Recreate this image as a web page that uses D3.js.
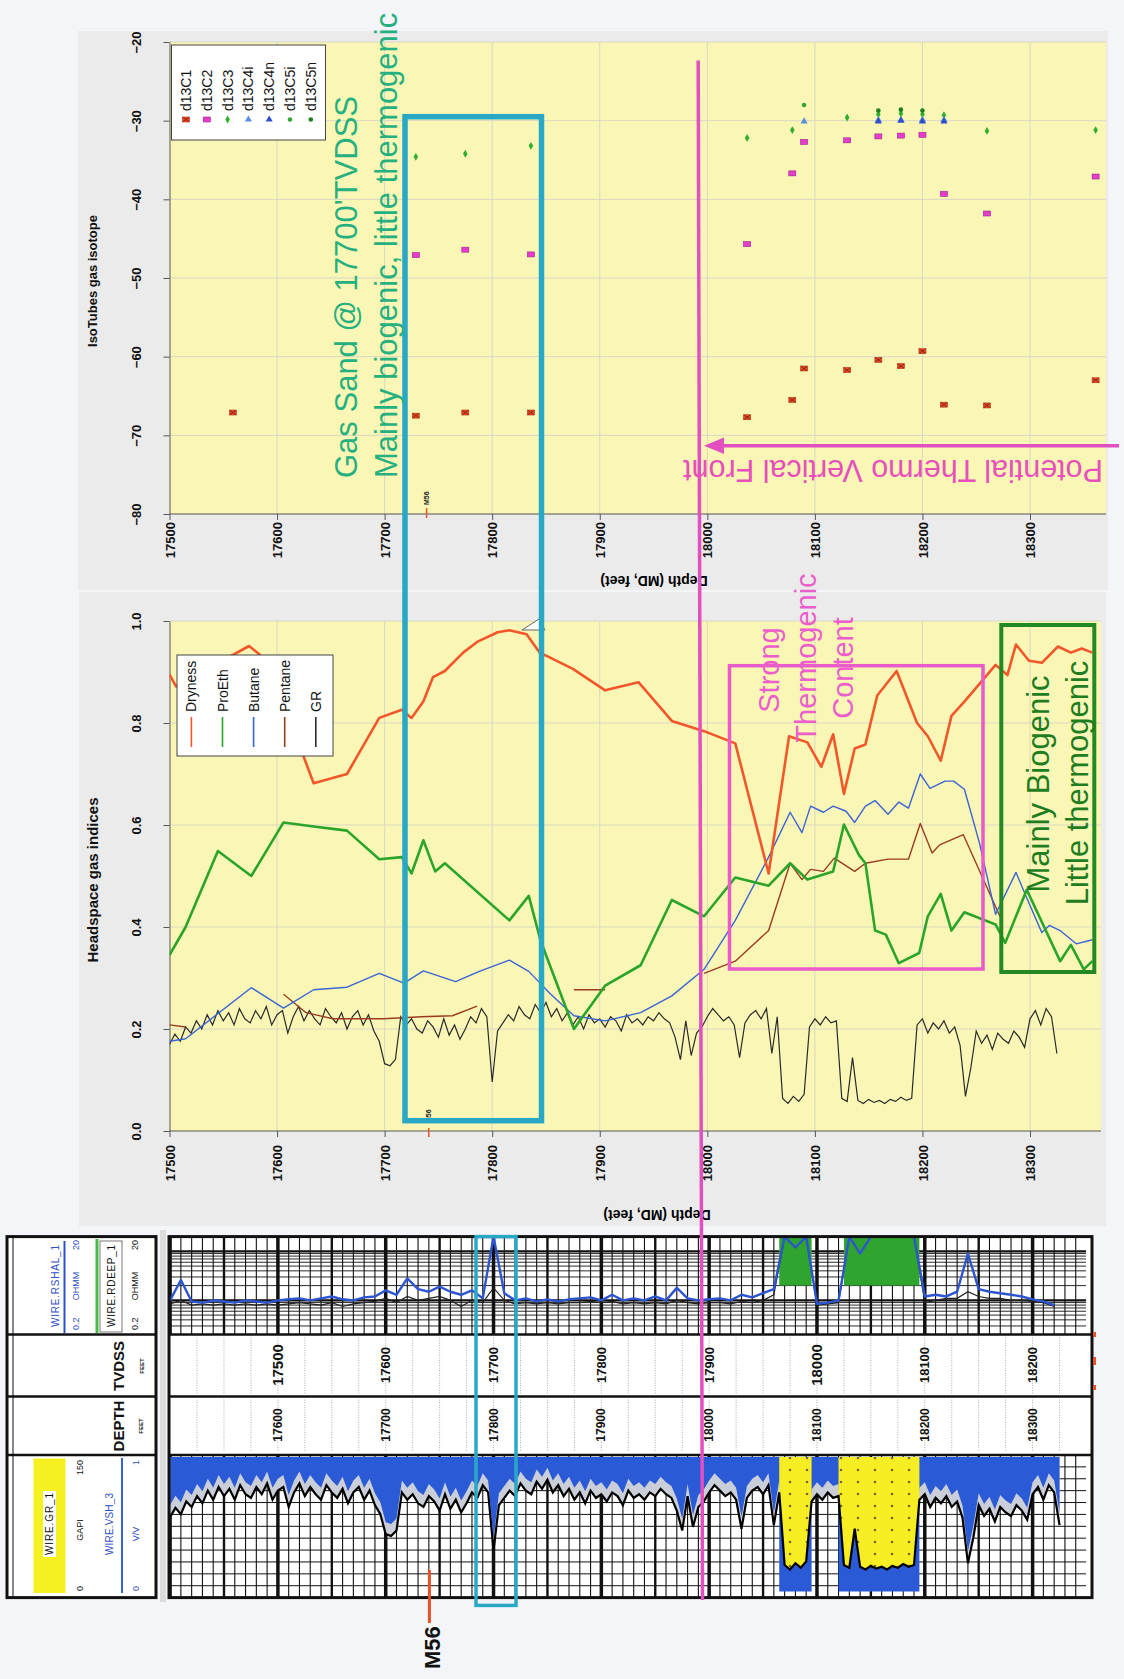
<!DOCTYPE html>
<html lang="en">
<head>
<meta charset="utf-8">
<title>Headspace gas indices and isotopes vs depth</title>
<script src="https://cdn.jsdelivr.net/npm/d3@7"></script>
<style>
  body { margin: 0; background: #f4f5f9; }
  svg text { font-family: "Liberation Sans", Arial, sans-serif; }
</style>
</head>
<body>
<script>
// ---- data ----
var depthTicks = [17500, 17600, 17700, 17800, 17900, 18000, 18100, 18200, 18300];
var isoTicks = [-80, -70, -60, -50, -40, -30, -20];
var idxTicks = [0, 0.2, 0.4, 0.6, 0.8, 1.0];

// isotope points [depth MD, per mil]
var d13C1 = [[17559,-67.1],[17729,-67.5],[17775,-67.1],[17836,-67.1],[18037,-67.7],[18079,-65.5],[18090,-61.5],
  [18130,-61.7],[18159,-60.4],[18180,-61.2],[18200,-59.3],[18220,-66.1],[18260,-66.2],[18361,-63.0]];
var d13C2 = [[17729,-47.1],[17775,-46.4],[17836,-47.0],[18037,-45.7],[18079,-36.7],[18090,-32.7],[18130,-32.5],
  [18159,-32.0],[18180,-31.9],[18200,-31.8],[18220,-39.3],[18260,-41.8],[18361,-37.1]];
var d13C3 = [[17729,-34.6],[17775,-34.2],[17836,-33.2],[18037,-32.2],[18079,-31.2],[18130,-29.6],[18159,-29.2],
  [18180,-29.1],[18200,-29.2],[18220,-29.3],[18260,-31.3],[18361,-31.2]];
var d13C4i = [[18090,-30.1],[18159,-29.9],[18180,-29.9],[18200,-29.9],[18220,-29.9]];
var d13C4n = [[18159,-30.1],[18180,-30.0],[18200,-30.1],[18220,-30.1]];
var d13C5i = [[18090,-28.0]];
var d13C5n = [[18159,-28.7],[18180,-28.6],[18200,-28.7]];

// headspace indices [depth MD, index]
var dryness = [[17500,0.895],[17506,0.872],[17574,0.951],[17584,0.934],[17600,0.86],[17615,0.78],[17624,0.738],
  [17634,0.682],[17665,0.70],[17695,0.81],[17716,0.826],[17725,0.81],[17736,0.842],[17745,0.89],[17756,0.902],
  [17773,0.938],[17786,0.959],[17805,0.978],[17816,0.982],[17832,0.974],[17844,0.938],[17852,0.93],[17875,0.906],
  [17905,0.864],[17936,0.880],[17967,0.804],[17997,0.784],[18026,0.760],[18057,0.505],[18076,0.774],[18093,0.762],
  [18106,0.714],[18117,0.778],[18127,0.661],[18137,0.750],[18147,0.758],[18158,0.854],[18176,0.902],[18195,0.80],
  [18205,0.774],[18217,0.726],[18227,0.814],[18239,0.842],[18268,0.914],[18279,0.894],[18287,0.954],[18299,0.922],
  [18311,0.918],[18326,0.950],[18338,0.938],[18348,0.946],[18358,0.938]];
var proEth = [[17500,0.345],[17515,0.40],[17545,0.549],[17576,0.50],[17606,0.605],[17634,0.597],[17665,0.589],
  [17695,0.533],[17716,0.537],[17725,0.505],[17736,0.57],[17747,0.509],[17756,0.525],[17816,0.413],[17834,0.461],
  [17845,0.373],[17876,0.20],[17905,0.285],[17938,0.325],[17967,0.453],[17997,0.421],[18026,0.497],[18057,0.481],
  [18077,0.525],[18093,0.493],[18117,0.509],[18127,0.601],[18141,0.541],[18147,0.525],[18156,0.393],[18166,0.385],
  [18178,0.329],[18197,0.349],[18205,0.421],[18217,0.465],[18227,0.393],[18239,0.429],[18268,0.405],[18277,0.369],
  [18297,0.473],[18328,0.333],[18338,0.365],[18350,0.317],[18358,0.333]];
var butane = [[17500,0.176],[17515,0.181],[17576,0.281],[17606,0.241],[17634,0.277],[17665,0.282],[17695,0.309],
  [17718,0.29],[17736,0.314],[17766,0.293],[17788,0.313],[17816,0.335],[17834,0.313],[17854,0.269],[17876,0.226],
  [17905,0.216],[17938,0.232],[17967,0.265],[17997,0.317],[18026,0.413],[18057,0.537],[18077,0.625],[18088,0.585],
  [18096,0.637],[18108,0.625],[18117,0.637],[18129,0.627],[18137,0.605],[18147,0.637],[18156,0.648],[18168,0.621],
  [18178,0.645],[18187,0.633],[18198,0.70],[18207,0.672],[18221,0.686],[18229,0.686],[18239,0.67],[18253,0.565],
  [18268,0.425],[18287,0.507],[18297,0.457],[18311,0.389],[18318,0.403],[18328,0.393],[18343,0.367],[18358,0.375]];
var pentane = [[17500,0.208],[17515,0.204],[17560,null],[17606,0.268],[17627,0.232],[17652,0.22],[17699,0.22],
  [17734,0.224],[17763,0.226],[17786,0.245],[17830,null],[17876,0.277],[17905,0.277],[17950,null],[17997,0.309],
  [18026,0.333],[18057,0.393],[18077,0.525],[18088,0.493],[18096,0.513],[18108,0.509],[18118,0.535],[18137,0.509],
  [18147,0.525],[18168,0.533],[18187,0.533],[18198,0.603],[18209,0.545],[18216,0.561],[18238,0.581],[18272,0.421]];

// gamma ray, API, every 5 ft from 17500 ft MD
var grStart = 17500, grStep = 5;
var grApi = [85,95,88,102,96,108,100,114,104,118,108,116,104,120,110,106,118,110,122,104,
  114,118,96,112,122,108,118,110,104,120,112,106,116,100,112,118,104,114,98,88,
  66,64,70,112,104,110,100,96,108,102,92,110,94,104,90,100,112,106,120,112,
  48,98,106,114,108,122,114,110,124,116,126,112,120,108,116,104,112,100,114,106,
  110,102,112,108,98,114,106,110,104,112,108,116,110,106,92,70,108,74,96,102,
  112,120,114,108,112,104,72,106,114,118,110,120,76,112,32,27,34,29,36,102,
  110,104,112,106,108,32,29,72,30,27,31,28,30,27,31,29,33,30,32,104,
  110,96,106,100,108,96,102,84,34,62,98,86,94,80,96,90,86,98,92,82,
  110,118,104,120,112,76];

// resistivity, ohm.m, every 10 ft from 17500 ft MD
var resStart = 17500, resStep = 10;
var rShal = [1.0,2.6,0.95,0.9,1.0,0.95,0.9,1.0,0.95,0.9,1.0,1.05,1.1,1.0,1.1,1.2,1.05,1.0,1.15,1.2,
  1.6,1.3,2.8,1.7,1.5,1.9,1.5,1.3,1.6,1.1,25,1.4,1.0,1.1,0.95,1.05,0.95,1.05,1.1,1.15,
  1.0,1.3,1.0,1.1,1.0,1.2,1.0,1.8,1.1,1.0,1.05,1.1,1.0,1.3,1.15,1.4,1.7,25,12,25,
  0.85,0.9,1.0,25,9,25,25,25,25,25,1.2,1.3,1.2,1.5,9,1.7,1.5,1.4,1.3,1.2,
  1.05,0.95,0.8];
var rDeep = [0.85,1.0,0.8,0.85,0.8,0.85,0.8,0.85,0.8,0.85,0.8,0.85,0.9,0.85,0.8,0.9,0.75,0.85,0.9,0.95,
  1.1,0.9,1.2,1.0,1.1,1.2,1.0,0.75,1.0,0.9,1.8,1.0,0.85,0.9,0.85,0.9,0.85,0.9,0.9,0.95,
  0.9,0.95,0.85,0.9,0.85,0.9,0.85,1.0,0.9,0.85,0.9,0.9,0.85,0.95,0.9,1.0,1.3,25,25,25,
  0.8,0.85,0.9,25,25,25,25,25,25,25,0.9,1.0,1.1,1.1,1.5,1.2,1.1,1.1,1.0,1.0,
  0.95,0.9,0.75];
var sandIntervals = [[18068, 18092], [18123, 18193]];
var mdLabels = [17600, 17700, 17800, 17900, 18000, 18100, 18200, 18300];
var tvdLabels = [17500, 17600, 17700, 17800, 17900, 18000, 18100, 18200];

// ---- drawing ----
var W = 1124, H = 1679;
var svg = d3.select("body").append("svg").attr("width", W).attr("height", H);
var defs = svg.append("defs");

var x = d3.scaleLinear().domain([17500, 18300]).range([169.5, 1030]);

function vtext(g, px, py, str, size, fill, anchor, weight) {
  return g.append("text")
    .attr("transform", "translate(" + px + "," + py + ") rotate(-90)")
    .attr("text-anchor", anchor || "middle")
    .attr("dominant-baseline", "central")
    .attr("font-size", size + "px")
    .attr("font-weight", weight || "normal")
    .attr("fill", fill || "#000")
    .text(str);
}

function chartFrame(px0, py0, px1, py1, y, yTicks, yFmt, labelGap) {
  var g = svg.append("g");
  g.append("rect").attr("x", px0).attr("y", py0).attr("width", px1 - px0).attr("height", py1 - py0)
    .attr("fill", "#faf7b6");
  g.selectAll(".vg").data(depthTicks.slice(1)).enter().append("line")
    .attr("x1", function(d) { return x(d); }).attr("x2", function(d) { return x(d); })
    .attr("y1", py0).attr("y2", py1).attr("stroke", "#d9d7c2").attr("stroke-width", 1);
  g.selectAll(".hg").data(yTicks.slice(1)).enter().append("line")
    .attr("x1", px0).attr("x2", px1)
    .attr("y1", function(d) { return y(d); }).attr("y2", function(d) { return y(d); })
    .attr("stroke", "#d9d7c2").attr("stroke-width", 1);

  var gx = g.append("g").attr("transform", "translate(0," + py1 + ")")
    .call(d3.axisBottom(x).tickValues(depthTicks).tickSize(6).tickSizeOuter(0).tickFormat(d3.format("d")));
  gx.select(".domain").attr("stroke", "#555").attr("d", "M" + px0 + ",0H" + px1);
  gx.selectAll(".tick line").attr("stroke", "#555");
  gx.selectAll(".tick text")
    .attr("transform", "rotate(-90)").attr("x", -labelGap).attr("y", 0).attr("dy", "0.35em")
    .attr("text-anchor", "end").attr("font-size", "13px").attr("font-weight", "bold")
    .attr("font-family", "'Liberation Sans', Arial, sans-serif").attr("fill", "#111");

  var gy = g.append("g").attr("transform", "translate(" + px0 + ",0)")
    .call(d3.axisLeft(y).tickValues(yTicks).tickSize(6).tickSizeOuter(0).tickFormat(yFmt));
  gy.select(".domain").attr("stroke", "#555");
  gy.selectAll(".tick line").attr("stroke", "#555");
  gy.selectAll(".tick text")
    .attr("transform", "rotate(-90)").attr("x", 0).attr("y", -33).attr("dy", "0.35em")
    .attr("text-anchor", "middle").attr("font-size", "13px").attr("font-weight", "bold")
    .attr("font-family", "'Liberation Sans', Arial, sans-serif").attr("fill", "#111");
  return g;
}

// ===== top panel: isotopes =====
svg.append("rect").attr("x", 78).attr("y", 31).attr("width", 1030).attr("height", 559).attr("fill", "#ebebeb");
var yIso = d3.scaleLinear().domain([-80, -20]).range([514, 42]);
var gTop = chartFrame(169.5, 42, 1106, 514, yIso, isoTicks, d3.format("d"), 8);
vtext(svg, 92, 281, "IsoTubes gas isotope", 13, "#111", "middle", "bold");
svg.append("text").attr("transform", "translate(654,581) rotate(180)").attr("text-anchor", "middle")
  .attr("dominant-baseline", "central").attr("font-size", "14px").attr("font-weight", "bold")
  .text("Depth (MD, feet)");

function drawMarker(g, type, cx, cy) {
  if (type === "c1") {
    g.append("rect").attr("x", cx - 3.5).attr("y", cy - 2.5).attr("width", 7).attr("height", 5)
      .attr("fill", "#f04a24").attr("stroke", "#b03010").attr("stroke-width", 0.6);
    g.append("path").attr("d", "M" + (cx - 3) + "," + (cy - 2) + "L" + (cx + 3) + "," + (cy + 2) +
      "M" + (cx - 3) + "," + (cy + 2) + "L" + (cx + 3) + "," + (cy - 2))
      .attr("stroke", "#702010").attr("stroke-width", 0.8);
  } else if (type === "c2") {
    g.append("rect").attr("x", cx - 3.5).attr("y", cy - 2.5).attr("width", 7).attr("height", 5)
      .attr("fill", "#e63ccc").attr("stroke", "#a02090").attr("stroke-width", 0.6);
  } else if (type === "c3") {
    g.append("path").attr("transform", "translate(" + cx + "," + cy + ")")
      .attr("d", d3.symbol().type(d3.symbolDiamond).size(18)()).attr("fill", "#2fae2f");
  } else if (type === "c4i" || type === "c4n") {
    g.append("path").attr("transform", "translate(" + cx + "," + cy + ")")
      .attr("d", d3.symbol().type(d3.symbolTriangle).size(22)())
      .attr("fill", type === "c4i" ? "#5b8de0" : "#3050c8");
  } else {
    g.append("circle").attr("cx", cx).attr("cy", cy).attr("r", 2.3)
      .attr("fill", type === "c5i" ? "#35a535" : "#1f7f1f");
  }
}

var isoSeries = [
  {name: "d13C1", type: "c1", data: d13C1}, {name: "d13C2", type: "c2", data: d13C2},
  {name: "d13C3", type: "c3", data: d13C3}, {name: "d13C4i", type: "c4i", data: d13C4i},
  {name: "d13C4n", type: "c4n", data: d13C4n}, {name: "d13C5i", type: "c5i", data: d13C5i},
  {name: "d13C5n", type: "c5n", data: d13C5n}];
var gPts = svg.append("g");
isoSeries.forEach(function(s) {
  s.data.forEach(function(p) { drawMarker(gPts, s.type, x(p[0]), yIso(p[1])); });
});
// legend
svg.append("rect").attr("x", 171.5).attr("y", 45).attr("width", 154).attr("height", 95)
  .attr("fill", "#fff").attr("stroke", "#444").attr("stroke-width", 1);
isoSeries.forEach(function(s, i) {
  var lx = 186 + i * 20.8;
  drawMarker(svg, s.type, lx, 119.5);
  vtext(svg, lx, 111, s.name, 14, "#111", "start");
});
// M56 pick
svg.append("line").attr("x1", x(17739)).attr("x2", x(17739)).attr("y1", 508).attr("y2", 518)
  .attr("stroke", "#e8502a").attr("stroke-width", 1.5);
vtext(svg, x(17739), 505, "M56", 7, "#222", "start", "bold");

// ===== middle panel: headspace gas indices =====
svg.append("rect").attr("x", 79).attr("y", 592).attr("width", 1027).attr("height", 634).attr("fill", "#ebebeb");
var yIdx = d3.scaleLinear().domain([0, 1]).range([1131, 621]);
var gMid = chartFrame(169.5, 621, 1101, 1131, yIdx, idxTicks, d3.format(".1f"), 14);
vtext(svg, 92, 880, "Headspace gas indices", 15, "#111", "middle", "bold");
svg.append("text").attr("transform", "translate(657,1215) rotate(180)").attr("text-anchor", "middle")
  .attr("dominant-baseline", "central").attr("font-size", "14px").attr("font-weight", "bold")
  .text("Depth (MD, feet)");

defs.append("clipPath").attr("id", "midClip").append("rect")
  .attr("x", 169.5).attr("y", 621).attr("width", 931.5).attr("height", 510);
var gLines = svg.append("g").attr("clip-path", "url(#midClip)");
var line = d3.line().defined(function(d) { return d[1] !== null; })
  .x(function(d) { return x(d[0]); }).y(function(d) { return yIdx(d[1]); });

var grLine = d3.line()
  .x(function(d, i) { return x(grStart + i * grStep); })
  .y(function(d) { return yIdx(d / 500); });
gLines.append("path").attr("d", grLine(grApi)).attr("fill", "none").attr("stroke", "#2a2a2a").attr("stroke-width", 1.2);

var idxSeries = [
  {name: "Dryness", data: dryness, color: "#f2562a", w: 2.6},
  {name: "ProEth", data: proEth, color: "#2aa52a", w: 2.6},
  {name: "Butane", data: butane, color: "#3a64d6", w: 1.4},
  {name: "Pentane", data: pentane, color: "#9b3b22", w: 1.4}];
idxSeries.slice().reverse().forEach(function(s) {
  gLines.append("path").attr("d", line(s.data)).attr("fill", "none")
    .attr("stroke", s.color).attr("stroke-width", s.w).attr("stroke-linejoin", "round");
});
// little open triangle at the top edge
svg.append("path").attr("d", "M522,630L545,630L539,619Z").attr("fill", "#fff").attr("stroke", "#666").attr("stroke-width", 1);

// legend
svg.append("rect").attr("x", 177).attr("y", 655).attr("width", 156).attr("height", 101)
  .attr("fill", "#fff").attr("stroke", "#444").attr("stroke-width", 1);
var legItems = idxSeries.concat([{name: "GR", color: "#2a2a2a"}]);
legItems.forEach(function(s, i) {
  var lx = 191.4 + i * 31.1;
  svg.append("line").attr("x1", lx).attr("x2", lx).attr("y1", 747).attr("y2", 717)
    .attr("stroke", s.color).attr("stroke-width", 1.6);
  vtext(svg, lx, 712, s.name, 14, "#111", "start");
});
svg.append("line").attr("x1", x(17741)).attr("x2", x(17741)).attr("y1", 1128).attr("y2", 1137)
  .attr("stroke", "#e8502a").attr("stroke-width", 1.5);
vtext(svg, x(17741), 1123, "M56", 7, "#222", "start", "bold");

// ===== bottom panel: well log =====
var xl = d3.scaleLinear().domain([17600, 18300]).range([277.9, 1032.6]);
var L0 = 169, L1 = 1086, LR = 1092;
var tRes = [1236.6, 1334.6], tTvd = [1334.6, 1396.6], tMd = [1396.6, 1455], tGr = [1455, 1597.6];
var gLog = svg.append("g");
gLog.append("rect").attr("x", L0).attr("y", 1236.6).attr("width", LR - L0).attr("height", 361).attr("fill", "#fff");
// separator strip
svg.append("rect").attr("x", 160).attr("y", 1230).attr("width", 6).attr("height", 372).attr("fill", "#dcdcdc");

var yRes = d3.scaleLog().domain([0.2, 20]).range([tRes[1], tRes[0]]).clamp(true);
var yGr = d3.scaleLinear().domain([0, 150]).range([1594, 1458]).clamp(true);

// grid: depth lines every 10 ft
var gridDepths = d3.range(17500, 18350, 10);
[tRes, tGr].forEach(function(t) {
  gLog.selectAll(null).data(gridDepths).enter().append("line")
    .attr("x1", function(d) { return xl(d); }).attr("x2", function(d) { return xl(d); })
    .attr("y1", t[0]).attr("y2", t[1]).attr("stroke", "#111")
    .attr("stroke-width", function(d) { return d % 100 === 0 ? 3.5 : (d % 50 === 0 ? 2.4 : 1.1); });
});
// resistivity log grid
var resGrid = [0.3, 0.4, 0.5, 0.6, 0.7, 0.8, 0.9, 1, 2, 3, 4, 5, 6, 7, 8, 9, 10];
gLog.selectAll(null).data(resGrid).enter().append("line")
  .attr("x1", L0).attr("x2", L1)
  .attr("y1", function(d) { return yRes(d); }).attr("y2", function(d) { return yRes(d); })
  .attr("stroke", "#111").attr("stroke-width", function(d) { return (d === 1 || d === 10) ? 2.4 : 0.9; });
// GR track grid
gLog.selectAll(null).data(d3.range(1, 12)).enter().append("line")
  .attr("x1", L0).attr("x2", L1)
  .attr("y1", function(d) { return tGr[0] + d * (tGr[1] - tGr[0]) / 12; })
  .attr("y2", function(d) { return tGr[0] + d * (tGr[1] - tGr[0]) / 12; })
  .attr("stroke", "#111").attr("stroke-width", 1);

// depth tracks: dotted lines every 25 ft
[tTvd, tMd].forEach(function(t) {
  gLog.selectAll(null).data(d3.range(17525, 18350, 25)).enter().append("line")
    .attr("x1", function(d) { return xl(d); }).attr("x2", function(d) { return xl(d); })
    .attr("y1", t[0] + 3).attr("y2", t[1] - 3).attr("stroke", "#aaa").attr("stroke-width", 1)
    .attr("stroke-dasharray", "1,1.5");
});
mdLabels.forEach(function(d) {
  vtext(gLog, xl(d), 1425, d, 12, "#111", "middle", "bold");
});
tvdLabels.forEach(function(d, i) {
  var big = (d === 17500 || d === 18000);
  vtext(gLog, xl(mdLabels[i]), 1365, d, big ? 15 : 13, "#111", "middle", "bold");
});

// resistivity curves + green fill (fill stepped, curves linear)
var resX = function(d, i) { return xl(resStart + i * resStep); };
gLog.append("path")
  .attr("d", d3.area().curve(d3.curveStep).x(resX).y0(yRes(2)).y1(function(d) { return yRes(Math.max(2, d)); })(rDeep))
  .attr("fill", "#2fa42f");
gLog.append("path").attr("d", d3.line().x(resX).y(function(d) { return yRes(d); })(rDeep))
  .attr("fill", "none").attr("stroke", "#222").attr("stroke-width", 1.2);
gLog.append("path").attr("d", d3.line().x(resX).y(function(d) { return yRes(d); })(rShal))
  .attr("fill", "none").attr("stroke", "#2d55d0").attr("stroke-width", 2.4).attr("stroke-linejoin", "round");

// GR track fills
var grX = function(d, i) { return xl(grStart + i * grStep); };
function inSand(i) {
  var dp = grStart + i * grStep;
  return sandIntervals.some(function(s) { return dp >= s[0] - 3 && dp <= s[1] + 3; });
}
var pat = defs.append("pattern").attr("id", "sandDots").attr("patternUnits", "userSpaceOnUse")
  .attr("width", 17).attr("height", 12);
pat.append("rect").attr("width", 17).attr("height", 12).attr("fill", "#f6ee22");
pat.append("circle").attr("cx", 8).attr("cy", 6).attr("r", 1.3).attr("fill", "#7a6a20");

gLog.append("path")
  .attr("d", d3.area().x(grX).y0(tGr[0] + 2).y1(function(d) { return yGr(d); })(grApi))
  .attr("fill", "#c9ced8");
gLog.append("path")
  .attr("d", d3.area().x(grX).y0(tGr[0] + 2).y1(function(d) { return Math.max(tGr[0] + 2, yGr(d) - 12); })(grApi))
  .attr("fill", "#2b5ad6");
gLog.append("path")
  .attr("d", d3.area().defined(function(d, i) { return inSand(i); }).x(grX)
    .y0(tGr[0] + 2).y1(function(d) { return yGr(d); })(grApi))
  .attr("fill", "url(#sandDots)");
gLog.append("path")
  .attr("d", d3.area().defined(function(d, i) { return inSand(i); }).x(grX)
    .y0(function(d) { return yGr(d); }).y1(tGr[1] - 6)(grApi))
  .attr("fill", "#2b5ad6");
gLog.append("path").attr("d", d3.line().x(grX).y(function(d) { return yGr(d); })(grApi))
  .attr("fill", "none").attr("stroke", "#000").attr("stroke-width", 2.2);

// track separators and frame
[tTvd[0], tMd[0], tGr[0]].forEach(function(yy) {
  gLog.append("line").attr("x1", L0).attr("x2", LR).attr("y1", yy).attr("y2", yy)
    .attr("stroke", "#111").attr("stroke-width", 2.5);
});
gLog.append("rect").attr("x", L0).attr("y", 1236.6).attr("width", LR - L0).attr("height", 361)
  .attr("fill", "none").attr("stroke", "#111").attr("stroke-width", 3);
// red marks at right edge
[[1332, 5], [1357, 8], [1385, 5]].forEach(function(m) {
  svg.append("rect").attr("x", 1093).attr("y", m[0]).attr("width", 3).attr("height", m[1]).attr("fill", "#e8502a");
});

// header box
var gH = svg.append("g");
gH.append("rect").attr("x", 7).attr("y", 1236.6).attr("width", 149).attr("height", 361)
  .attr("fill", "#fff").attr("stroke", "#111").attr("stroke-width", 3);
[tTvd[0], tMd[0], tGr[0]].forEach(function(yy) {
  gH.append("line").attr("x1", 7).attr("x2", 156).attr("y1", yy).attr("y2", yy).attr("stroke", "#111").attr("stroke-width", 2.5);
});
gH.append("line").attr("x1", 13).attr("x2", 13).attr("y1", 1238).attr("y2", 1596).attr("stroke", "#111").attr("stroke-width", 1);
// resistivity header
vtext(gH, 55, 1286, "WIRE.RSHAL_1", 10, "#3050c8", "middle").attr("textLength", 82);
gH.append("line").attr("x1", 64.5).attr("x2", 64.5).attr("y1", 1241).attr("y2", 1333).attr("stroke", "#3050c8").attr("stroke-width", 2);
vtext(gH, 76, 1330, "0.2", 9, "#3050c8", "start");
vtext(gH, 76, 1286, "OHMM", 9, "#3050c8", "middle");
vtext(gH, 76, 1240, "20", 9, "#3050c8", "end");
gH.append("line").attr("x1", 97).attr("x2", 97).attr("y1", 1239).attr("y2", 1333).attr("stroke", "#44bb44").attr("stroke-width", 3);
gH.append("rect").attr("x", 100).attr("y", 1241).attr("width", 22).attr("height", 91).attr("fill", "none").attr("stroke", "#555").attr("stroke-width", 0.8);
vtext(gH, 111, 1286, "WIRE.RDEEP_1", 10, "#111", "middle").attr("textLength", 82);
vtext(gH, 134.5, 1330, "0.2", 9, "#111", "start");
vtext(gH, 134.5, 1286, "OHMM", 9, "#111", "middle");
vtext(gH, 134.5, 1240, "20", 9, "#111", "end");
// depth headers
vtext(gH, 118.5, 1366, "TVDSS", 15, "#111", "middle", "bold");
vtext(gH, 141.5, 1366, "FEET", 6, "#111", "middle", "bold");
vtext(gH, 118.5, 1426, "DEPTH", 15, "#111", "middle", "bold");
vtext(gH, 140.5, 1426, "FEET", 6, "#111", "middle", "bold");
// GR header
gH.append("rect").attr("x", 33.5).attr("y", 1458.5).attr("width", 32).attr("height", 134.5).attr("fill", "#f5f020");
gH.append("rect").attr("x", 43).attr("y", 1491).attr("width", 13).attr("height", 66).attr("fill", "#fff");
vtext(gH, 49.5, 1524, "WIRE.GR_1", 10, "#111", "middle").attr("textLength", 62);
vtext(gH, 79.5, 1591, "0", 9, "#111", "start");
vtext(gH, 79.5, 1530, "GAPI", 9, "#111", "middle");
vtext(gH, 79.5, 1460, "150", 9, "#111", "end");
gH.append("line").attr("x1", 122).attr("x2", 122).attr("y1", 1458).attr("y2", 1593).attr("stroke", "#3a64d6").attr("stroke-width", 2);
vtext(gH, 109.5, 1524, "WIRE.VSH_3", 10, "#3050c8", "middle").attr("textLength", 62);
vtext(gH, 136.3, 1591, "0", 9, "#3050c8", "start");
vtext(gH, 136.3, 1534, "V/V", 9, "#3050c8", "middle");
vtext(gH, 136.3, 1460, "1", 9, "#3050c8", "end");

// M56 at the log
svg.append("line").attr("x1", 429.4).attr("x2", 429.4).attr("y1", 1570).attr("y2", 1623)
  .attr("stroke", "#e8502a").attr("stroke-width", 3);
vtext(svg, 432, 1669, "M56", 22, "#111", "start", "bold");

// ===== annotations =====
var ann = svg.append("g");
// gas sand
ann.append("rect").attr("x", 405).attr("y", 116.7).attr("width", 136.5).attr("height", 1004)
  .attr("fill", "none").attr("stroke", "#29a8c6").attr("stroke-width", 5.5);
ann.append("rect").attr("x", 476).attr("y", 1236.6).attr("width", 40).attr("height", 368.8)
  .attr("fill", "none").attr("stroke", "#29a8c6").attr("stroke-width", 3.5);
vtext(ann, 346, 478, "Gas Sand @ 17700'TVDSS", 31, "#26b07f", "start");
vtext(ann, 386.5, 478, "Mainly biogenic, little thermogenic", 31, "#26b07f", "start");
// strong thermogenic
ann.append("rect").attr("x", 729.5).attr("y", 665.7).attr("width", 253.5).attr("height", 303.3)
  .attr("fill", "none").attr("stroke", "#e85bc8").attr("stroke-width", 3.5);
vtext(ann, 768.6, 670, "Strong", 29, "#ec5ecb", "middle");
vtext(ann, 805.5, 658, "Thermogenic", 29, "#ec5ecb", "middle");
vtext(ann, 842.5, 668, "Content", 29, "#ec5ecb", "middle");
// mainly biogenic
ann.append("rect").attr("x", 1001.3).attr("y", 625).attr("width", 93).attr("height", 347)
  .attr("fill", "none").attr("stroke", "#238a23").attr("stroke-width", 4);
vtext(ann, 1038.6, 784, "Mainly Biogenic", 31, "#1e7d1e", "middle");
vtext(ann, 1077, 783, "Little thermogenic", 31, "#1e7d1e", "middle");
// thermo front
ann.append("line").attr("x1", 698.2).attr("y1", 60.5).attr("x2", 702.5).attr("y2", 1600)
  .attr("stroke", "#e24fc0").attr("stroke-width", 3.5);
ann.append("line").attr("x1", 1119).attr("y1", 445.8).attr("x2", 715).attr("y2", 445.8)
  .attr("stroke", "#e24fc0").attr("stroke-width", 3.5);
ann.append("path").attr("d", "M704,445.8L724,437.5L724,454Z").attr("fill", "#e24fc0");
ann.append("text").attr("transform", "translate(893,470.7) rotate(180)").attr("text-anchor", "middle")
  .attr("dominant-baseline", "central").attr("font-size", "30.5px").attr("fill", "#e84fbc")
  .text("Potential Thermo Vertical Front");
</script>
</body>
</html>
